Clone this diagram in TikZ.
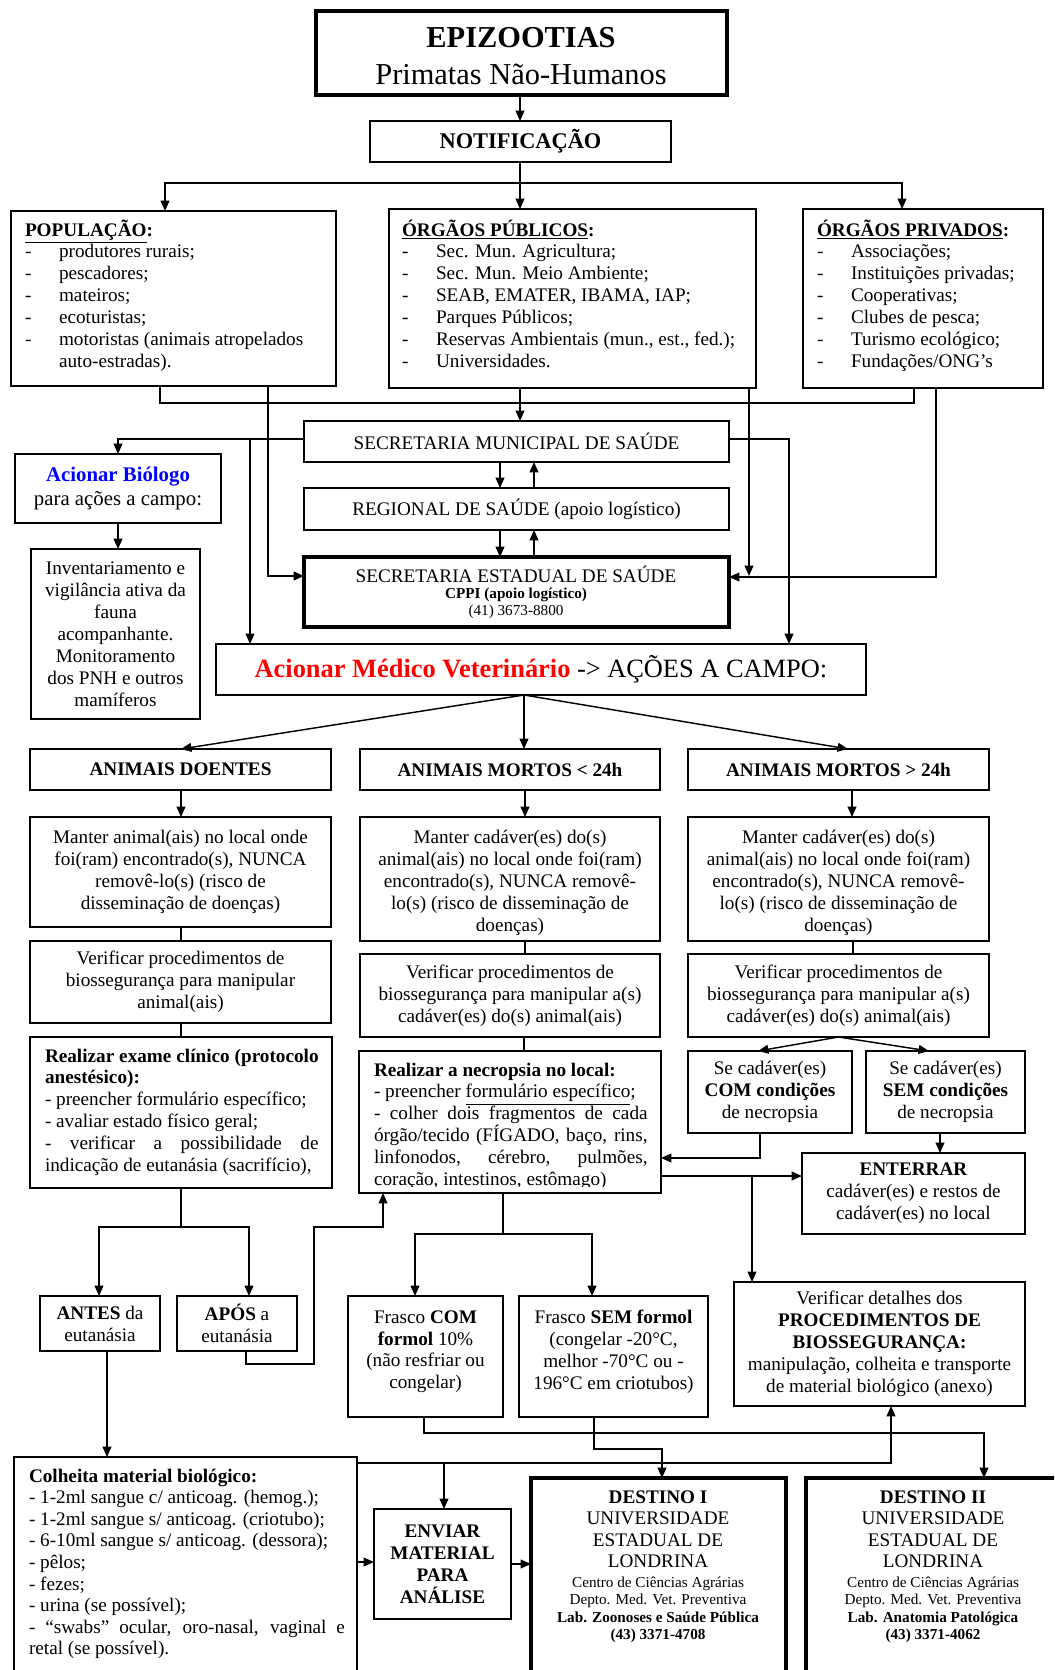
\documentclass[tikz,border=0pt]{standalone}
\usepackage{fontspec}
\setmainfont{Liberation Serif}
\usetikzlibrary{arrows.meta}
\definecolor{vred}{RGB}{255,0,0}
\definecolor{vblue}{RGB}{0,0,255}
\newcommand\nf{\fontsize{12}{13.7}\selectfont}
\newcommand\itm{\makebox[21.3pt][l]{-}}
\tikzset{
  bxs/.style={draw=black, line width=0.9pt, inner sep=0pt, outer sep=0pt, align=center, font=\nf},
  thickbox/.style={bxs, line width=2.4pt},
  inner/.style={inner sep=0pt, outer sep=0pt, align=center, font=\nf},
  conn/.style={line width=0.9pt, -{Triangle[length=6.5pt,width=5.5pt]}},
  dbl/.style={line width=0.9pt, {Triangle[length=6.5pt,width=5.5pt]}-{Triangle[length=6.5pt,width=5.5pt]}},
  ln/.style={line width=0.9pt},
  tx/.style={inner sep=0pt, outer sep=0pt, anchor=base west, font=\nf},
  txc/.style={inner sep=0pt, outer sep=0pt, anchor=base, font=\nf},
}
\newcommand\bx[7][]{\node[bxs,anchor=north west,minimum width={(#5-#3)*0.625pt},minimum height={(#6-#4)*0.625pt},#1] (#2) at (#3,#4) {#7};}
\begin{document}
\begin{tikzpicture}[x=0.625pt,y=-0.625pt]
\useasboundingbox (0,0) rectangle (1054,1670);
\fill[white] (0,0) rectangle (1054,1670);
\clip (0,0) rectangle (1054,1670);

% ---------- top ----------
\bx[thickbox]{epi}{316}{11}{727}{95}{}
\node[txc,font=\fontsize{19}{22}\selectfont\bfseries] (epit) at (521,48) {EPIZOOTIAS};
\node[txc,font=\fontsize{19}{22}\selectfont] (epis) at (521,85) {Primatas Não-Humanos};
\bx[font=\fontsize{14}{16}\selectfont\bfseries]{notif}{370}{121}{671}{162}{NOTIFICAÇÃO}

\bx{pop}{11}{211}{336}{386}{}
\bx{pub}{389}{209}{756}{388}{}
\bx{priv}{803}{209}{1043}{388}{}
\node[tx] (popt) at (25,236) {\parbox[t]{195pt}{\raggedright\nf
\textbf{\underline{POPULAÇÃO}:}\\
\itm produtores rurais;\\
\itm pescadores;\\
\itm mateiros;\\
\itm ecoturistas;\\
\itm motoristas (animais atropelados\\
\hspace*{21.3pt}auto-estradas).}};
\node[tx] (pubt) at (402,236) {\parbox[t]{220pt}{\raggedright\nf
\textbf{\underline{ÓRGÃOS PÚBLICOS}:}\\
\itm Sec. Mun. Agricultura;\\
\itm Sec. Mun. Meio Ambiente;\\
\itm SEAB, EMATER, IBAMA, IAP;\\
\itm Parques Públicos;\\
\itm Reservas Ambientais (mun., est., fed.);\\
\itm Universidades.}};
\node[tx] (privt) at (817,236) {\parbox[t]{140pt}{\raggedright\nf
\textbf{\underline{ÓRGÃOS PRIVADOS}:}\\
\itm Associações;\\
\itm Instituições privadas;\\
\itm Cooperativas;\\
\itm Clubes de pesca;\\
\itm Turismo ecológico;\\
\itm Fundações/ONG’s}};

\bx{secmun}{304}{421}{729}{462}{SECRETARIA MUNICIPAL DE SAÚDE}
\bx{reg}{304}{488}{729}{530}{REGIONAL DE SAÚDE (apoio logístico)}
\bx[thickbox]{secest}{304}{557}{729}{627}{}
\node[txc] (secestt) at (516,582) {\parbox[t]{250pt}{\centering\nf SECRETARIA ESTADUAL DE SAÚDE\par
\fontsize{9.5}{10.6}\selectfont\textbf{CPPI (apoio logístico)}\\ (41) 3673-8800\par}};

\bx[font=\fontsize{13}{15.4}\selectfont]{bio}{15}{454}{221}{523}{\textcolor{vblue}{\bfseries Acionar Biólogo}\\ para ações a campo:}
\bx{inv}{31}{549}{200}{719}{Inventariamento e\\ vigilância ativa da\\ fauna\\ acompanhante.\\ Monitoramento\\ dos PNH e outros\\ mamíferos}
\bx[font=\fontsize{16.5}{19}\selectfont]{medvet}{216}{644}{866}{695}{\textcolor{vred}{\bfseries Acionar Médico Veterinário} -> AÇÕES A CAMPO:}

% ---------- three columns ----------
\bx[font=\nf\bfseries]{c1h}{30}{749}{331}{790}{ANIMAIS DOENTES}
\bx[font=\nf\bfseries]{c2h}{360}{749}{660}{790}{ANIMAIS MORTOS < 24h}
\bx[font=\nf\bfseries]{c3h}{688}{749}{989}{790}{ANIMAIS MORTOS > 24h}

\bx{c1m}{30}{817}{331}{927}{Manter animal(ais) no local onde\\ foi(ram) encontrado(s), NUNCA\\ removê-lo(s) (risco de\\ disseminação de doenças)}
\bx{c2m}{360}{817}{660}{941}{}
\node[inner] (c2mt) at ([yshift=-2.5pt]c2m.center) {Manter cadáver(es) do(s)\\ animal(ais) no local onde foi(ram)\\ encontrado(s), NUNCA removê-\\ lo(s) (risco de disseminação de\\ doenças)};
\bx{c3m}{688}{817}{989}{941}{}
\node[inner] (c3mt) at ([yshift=-2.5pt]c3m.center) {Manter cadáver(es) do(s)\\ animal(ais) no local onde foi(ram)\\ encontrado(s), NUNCA removê-\\ lo(s) (risco de disseminação de\\ doenças)};

\bx{c1v}{30}{941}{331}{1023}{Verificar procedimentos de\\ biossegurança para manipular\\ animal(ais)}
\bx{c2v}{360}{954}{660}{1037}{Verificar procedimentos de\\ biossegurança para manipular a(s)\\ cadáver(es) do(s) animal(ais)}
\bx{c3v}{688}{954}{989}{1037}{Verificar procedimentos de\\ biossegurança para manipular a(s)\\ cadáver(es) do(s) animal(ais)}

\bx{c1r}{30}{1037}{332}{1188}{}
\node[tx] (c1rt) at (45,1062) {\parbox[t]{171pt}{\raggedright\nf
\makebox[171pt][s]{\bfseries Realizar exame clínico (protocolo}\\
\textbf{anestésico):}\\
- preencher formulário específico;\\
- avaliar estado físico geral;\\
\makebox[171pt][s]{- verificar a possibilidade de}\\
indicação de eutanásia (sacrifício),}};

\bx{nec}{359}{1051}{661}{1193}{}
\begin{scope}
\clip (360,1052) rectangle (660,1186);
\node[tx] (nect) at (374,1076) {\parbox[t]{171pt}{\raggedright\nf
\textbf{Realizar a necropsia no local:}\\
- preencher \underline{formulário específico};\\
\makebox[171pt][s]{- colher dois fragmentos de cada}\\
\makebox[171pt][s]{órgão/tecido (FÍGADO, baço, rins,}\\
\makebox[171pt][s]{linfonodos, cérebro, pulmões,}\\
coração, intestinos, estômago)}};
\end{scope}

\bx{sc}{688}{1051}{852}{1133}{Se cadáver(es)\\ \textbf{COM condições}\\ de necropsia}
\bx{ss}{866}{1051}{1025}{1133}{Se cadáver(es)\\ \textbf{SEM condições}\\ de necropsia}
\bx{ent}{802}{1153}{1025}{1234}{\textbf{ENTERRAR}\\ cadáver(es) e restos de\\ cadáver(es) no local}
\bx{vd}{734}{1282}{1025}{1406}{Verificar detalhes dos\\ \textbf{PROCEDIMENTOS DE}\\ \textbf{BIOSSEGURANÇA:}\\ manipulação, colheita e transporte\\ de material biológico (anexo)}

\bx{antes}{40}{1296}{160}{1351}{\textbf{ANTES} da\\ eutanásia}
\bx{apos}{177}{1296}{297}{1351}{\textbf{APÓS} a\\ eutanásia}
\bx{fc}{348}{1296}{503}{1417}{}
\node[inner] (fct) at ([yshift=3pt]fc.center) {Frasco \textbf{COM}\\ \textbf{formol} 10\%\\ (não resfriar ou\\ congelar)};
\bx{fs}{519}{1296}{708}{1417}{}
\node[inner] (fst) at ([yshift=3pt]fs.center) {Frasco \textbf{SEM formol}\\ (congelar -20°C,\\ melhor -70°C ou -\\ 196°C em criotubos)};

% ---------- bottom ----------
\bx{col}{14}{1457}{357}{1720}{}
\node[tx] (colt) at (29,1482) {\parbox[t]{197.5pt}{\raggedright\fontsize{12}{13.5}\selectfont
\textbf{Colheita material biológico:}\\
- 1-2ml sangue c/ anticoag. (hemog.);\\
- 1-2ml sangue s/ anticoag. (criotubo);\\
- 6-10ml sangue s/ anticoag. (dessora);\\
- pêlos;\\
- fezes;\\
- urina (se possível);\\
\makebox[197.5pt][s]{- “swabs” ocular, oro-nasal, vaginal e}\\
retal (se possível).}};

\bx[font=\nf\bfseries]{envia}{374}{1509}{511}{1619}{ENVIAR\\ MATERIAL\\ PARA\\ ANÁLISE}

\bx[thickbox]{d1}{531}{1478}{786}{1720}{}
\bx[thickbox]{d2}{806}{1478}{1075}{1720}{}
\node[txc] (d1t) at (658,1503) {\parbox[t]{160pt}{\centering\fontsize{12}{13.5}\selectfont
\textbf{DESTINO I}\\ UNIVERSIDADE\\ ESTADUAL DE\\ LONDRINA\par
\vspace{1.3pt}\fontsize{9.5}{10.9}\selectfont Centro de Ciências Agrárias\\ Depto. Med. Vet. Preventiva\\ \textbf{Lab. Zoonoses e Saúde Pública}\\ \textbf{(43) 3371-4708}\par}};
\node[txc] (d2t) at (933,1503) {\parbox[t]{160pt}{\centering\fontsize{12}{13.5}\selectfont
\textbf{DESTINO II}\\ UNIVERSIDADE\\ ESTADUAL DE\\ LONDRINA\par
\vspace{1.3pt}\fontsize{9.5}{10.9}\selectfont Centro de Ciências Agrárias\\ Depto. Med. Vet. Preventiva\\ \textbf{Lab. Anatomia Patológica}\\ \textbf{(43) 3371-4062}\par}};

% ---------- connectors ----------
\draw[conn] (epi.south -| 520,0) -- (notif.north -| 520,0);
\draw[ln] (notif.south -| 520,0) -- (520,183);
\draw[dbl] (pop.north -| 165,0) |- (902,183) -- (priv.north -| 902,0);
\draw[conn] (520,183) -- (pub.north -| 520,0);

\draw[ln] (pop.south -| 160,0) |- (914,403) -- (priv.south -| 914,0);
\draw[conn] (pub.south -| 520,0) -- (secmun.north -| 520,0);
\draw[conn] (pop.south -| 268,0) |- (secest.west |- 0,576);
\coordinate (pj) at (749,576);
\draw[conn] (pub.south -| 749,0) -- (pj);
\draw[conn] (priv.south -| 936,0) |- (secest.east |- 0,577);

\coordinate (smj) at (250,439);
\draw[conn] (secmun.west |- 0,439) -| (bio.north);
\draw[conn] (smj) -- (medvet.north -| smj);
\draw[conn] (secmun.east |- 0,439) -| (medvet.north -| 789,0);
\draw[conn] (bio.south) -- (inv.north -| bio.south);

\draw[conn] (secmun.south -| 500,0) -- (reg.north -| 500,0);
\draw[conn] (reg.north -| 534,0) -- (secmun.south -| 534,0);
\draw[conn] (reg.south -| 500,0) -- (secest.north -| 500,0);
\draw[conn] (secest.north -| 534,0) -- (reg.south -| 534,0);

\draw[conn] (medvet.south -| 524,0) -- (c1h.north -| 181,0);
\draw[conn] (medvet.south -| 524,0) -- (c2h.north -| 524,0);
\draw[conn] (medvet.south -| 524,0) -- (c3h.north -| 848,0);

\draw[conn] (c1h.south -| 181,0) -- (c1m.north -| 181,0);
\draw[conn] (c2h.south -| 525,0) -- (c2m.north -| 525,0);
\draw[conn] (c3h.south -| 852,0) -- (c3m.north -| 852,0);
\draw[ln] (c1m.south -| 181,0) -- (c1v.north -| 181,0);
\draw[ln] (c1v.south -| 181,0) -- (c1r.north -| 181,0);
\draw[ln] (c2m.south -| 525,0) -- (c2v.north -| 525,0);
\draw[ln] (c2v.south -| 524,0) -- (nec.north -| 524,0);
\draw[ln] (c3m.south -| 853,0) -- (c3v.north -| 853,0);

\draw[conn] (c3v.south) -- (sc.north -| 758,0);
\draw[conn] (c3v.south) -- (ss.north -| 929,0);
\draw[conn] (sc.south -| 760,0) |- (nec.east |- 0,1158);
\draw[conn] (ss.south -| 940,0) -- (ent.north -| 940,0);
\draw[conn] (nec.east |- 0,1176) -- (ent.west |- 0,1176);
\draw[conn] (752,1176) -- (vd.north -| 752,0);

\draw[ln] (c1r.south -| 181,0) -- (181,1227);
\draw[dbl] (antes.north -| 99,0) |- (249,1227) -- (apos.north -| 249,0);
\draw[conn] (apos.south -| 246,0) |- (314,1364) |- (383,1227) -- (nec.south -| 383,0);
\draw[conn] (antes.south -| 107,0) -- (col.north -| 107,0);

\draw[ln] (nec.south -| 503,0) -- (503,1234);
\draw[dbl] (fc.north -| 415,0) |- (592,1234) -- (fs.north -| 592,0);
\draw[conn] (fc.south -| 424,0) |- (984,1433) -- (d2.north -| 984,0);
\draw[conn] (fs.south -| 594,0) |- (662,1449) -- (d1.north -| 662,0);

\draw[conn] (col.east |- 0,1463) -| (vd.south -| 891,0);
\draw[conn] (444,1463) -- (envia.north -| 444,0);
\draw[conn] (col.east |- 0,1562) -- (envia.west |- 0,1562);
\draw[conn] (envia.east) -- (d1.west |- envia.east);
\end{tikzpicture}
\end{document}
